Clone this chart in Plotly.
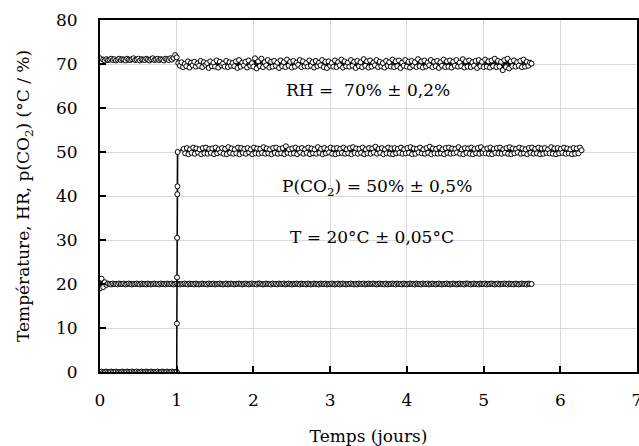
import plotly.graph_objects as go

# ---- data, half-hourly samples ----
step_days = 1 / 48

rh_values = [
    71.3, 70.4, 71.0, 70.8, 71.1, 70.9, 71.0, 71.2, 70.9, 71.1,
    70.8, 71.0, 71.2, 70.9, 71.1, 71.0, 70.8, 71.2, 71.0, 70.9,
    71.1, 71.3, 70.9, 71.0, 71.2, 70.8, 71.1, 71.0, 70.9, 71.2,
    71.0, 70.8, 71.1, 71.3, 70.9, 71.0, 71.2, 70.9, 71.1, 71.0,
    70.8, 71.2, 71.1, 70.9, 71.3, 71.0, 71.4, 72.0, 71.5,
    70.2, 69.6, 70.4, 69.3, 70.0, 69.5, 70.6, 69.2, 70.3, 69.7,
    70.5, 69.4, 70.1, 69.6, 70.7, 69.3, 70.4, 69.8, 70.2, 69.1,
    70.6, 69.5, 70.3, 69.4, 70.8, 69.2, 70.5, 69.7, 70.1, 69.4,
    70.7, 69.3, 70.4, 69.6, 70.2, 69.5, 70.6, 69.1, 70.9, 69.4,
    70.3, 69.7, 70.5, 69.2, 70.8, 69.6, 70.2, 69.4, 71.3, 69.0,
    70.6, 69.5, 71.2, 69.3, 70.4, 69.7, 70.9, 69.2, 70.5, 69.4,
    70.7, 69.6, 70.3, 69.1, 70.8, 69.5, 70.4, 69.3, 71.0, 69.6,
    70.5, 69.2, 70.7, 69.4, 70.3, 69.8, 70.9, 69.3, 70.6, 69.5,
    70.2, 69.4, 70.8, 69.6, 70.4, 69.2, 70.7, 69.5, 70.3, 69.7,
    70.9, 69.3, 70.5, 69.1, 70.6, 69.6, 70.2, 69.4, 70.8, 69.3,
    70.4, 69.7, 71.0, 69.2, 70.6, 69.5, 70.3, 69.4, 70.9, 69.6,
    70.5, 69.1, 70.7, 69.5, 70.4, 69.3, 71.1, 69.6, 70.6, 69.2,
    70.8, 69.4, 70.3, 69.7, 70.9, 69.3, 70.5, 69.5, 70.2, 69.2,
    70.7, 69.6, 70.4, 69.4, 71.0, 69.3, 70.6, 69.5, 70.8, 69.1,
    70.3, 69.6, 70.9, 69.4, 70.5, 69.2, 70.7, 69.6, 70.4, 69.3,
    71.1, 69.5, 70.6, 69.2, 70.8, 69.4, 70.3, 69.7, 70.9, 69.3,
    70.5, 69.5, 70.7, 69.1, 70.4, 69.6, 71.0, 69.3, 70.6, 69.4,
    70.8, 69.2, 70.5, 69.6, 70.9, 69.4, 70.3, 69.5, 71.1, 69.2,
    70.6, 69.4, 70.8, 69.3, 70.4, 69.6, 70.7, 69.1, 70.9, 69.5,
    70.5, 69.3, 71.0, 69.4, 70.6, 69.2, 70.8, 69.5, 71.2, 69.3,
    70.7, 69.4, 70.5, 68.6, 70.9, 69.3, 71.2, 69.0, 70.6, 69.5,
    70.8, 69.4, 70.4, 69.6, 70.7, 69.3, 71.0, 69.4, 70.5, 69.6,
    70.3, 70.1,
]

t_values = [
    19.0, 21.2, 19.3, 20.4, 19.8, 20.1, 20.0, 19.9, 20.1, 20.0,
    20.0, 19.9, 20.1, 20.0, 20.0, 20.1, 19.9, 20.0, 20.1, 20.0,
    19.9, 20.0, 20.0, 20.1, 20.0, 19.9, 20.1, 20.0, 20.0, 19.9,
    20.1, 20.0, 19.9, 20.0, 20.1, 20.0, 20.0, 19.9, 20.1, 20.0,
    20.0, 19.9, 20.1, 20.0, 20.0, 20.1, 19.9, 20.0, 20.1, 20.0,
    19.9, 20.0, 20.0, 20.1, 20.0, 19.9, 20.1, 20.0, 20.0, 19.9,
    20.1, 20.0, 19.9, 20.0, 20.1, 20.0, 20.0, 19.9, 20.1, 20.0,
    20.0, 20.1, 19.9, 20.0, 20.0, 20.1, 20.0, 19.9, 20.0, 20.1,
    19.9, 20.0, 20.1, 20.0, 19.9, 20.0, 20.0, 20.1, 20.0, 19.9,
    20.0, 20.1, 20.0, 19.9, 20.0, 20.1, 20.0, 20.0, 19.9, 20.1,
    20.1, 20.0, 19.9, 20.0, 20.1, 20.0, 20.0, 19.9, 20.1, 20.0,
    20.0, 19.9, 20.1, 20.0, 20.0, 20.1, 19.9, 20.0, 20.1, 20.0,
    19.9, 20.0, 20.0, 20.1, 20.0, 19.9, 20.1, 20.0, 20.0, 19.9,
    20.1, 20.0, 19.9, 20.0, 20.1, 20.0, 20.0, 19.9, 20.1, 20.0,
    20.0, 20.1, 19.9, 20.0, 20.0, 20.1, 20.0, 19.9, 20.0, 20.1,
    19.9, 20.0, 20.1, 20.0, 19.9, 20.0, 20.0, 20.1, 20.0, 19.9,
    20.0, 19.9, 20.1, 20.0, 20.0, 20.1, 19.9, 20.0, 20.1, 20.0,
    20.0, 20.1, 20.0, 19.9, 20.0, 20.1, 20.0, 20.0, 19.9, 20.1,
    19.9, 20.0, 20.0, 20.1, 20.0, 19.9, 20.1, 20.0, 20.0, 19.9,
    20.1, 20.0, 19.9, 20.0, 20.1, 20.0, 20.0, 19.9, 20.1, 20.0,
    20.0, 19.9, 20.1, 20.0, 20.0, 20.1, 19.9, 20.0, 20.1, 20.0,
    19.9, 20.0, 20.1, 20.0, 19.9, 20.0, 20.0, 20.1, 20.0, 19.9,
    20.0, 20.1, 20.0, 19.9, 20.0, 20.1, 20.0, 20.0, 19.9, 20.1,
    20.1, 20.0, 19.9, 20.0, 20.1, 20.0, 20.0, 19.9, 20.1, 20.0,
    20.0, 20.1, 19.9, 20.0, 20.0, 20.1, 20.0, 19.9, 20.0, 20.1,
    19.9, 20.0, 20.0, 20.1, 20.0, 19.9, 20.1, 20.0, 20.0, 19.9,
    20.1, 20.0, 19.9, 20.0, 20.1, 20.0, 20.0, 19.9, 20.1, 20.0,
    20.0,
]

co2_base_values = [
    0.0, 0.1, 0.0, 0.0, 0.1, 0.0, 0.0, 0.1, 0.0, 0.0,
    0.1, 0.0, 0.0, 0.0, 0.1, 0.0, 0.0, 0.1, 0.0, 0.0,
    0.1, 0.0, 0.0, 0.1, 0.0, 0.0, 0.1, 0.0, 0.0, 0.1,
    0.0, 0.0, 0.1, 0.0, 0.0, 0.0, 0.1, 0.0, 0.0, 0.1,
    0.0, 0.0, 0.1, 0.0, 0.0, 0.1, 0.0, 0.0, 0.0,
]
co2_ramp_days = [1.0, 1.002, 1.004, 1.006, 1.008, 1.010, 1.012]
co2_ramp_values = [0.0, 11.0, 21.5, 30.5, 40.4, 42.2, 50.0]
co2_plateau_start = 1.09
co2_plateau_values = [
    50.7, 49.7, 50.9, 49.5, 50.6, 49.8, 51.0, 49.6, 50.8, 49.9,
    50.6, 49.5, 50.9, 49.7, 51.0, 49.6, 50.7, 49.8, 50.8, 49.5,
    51.0, 49.7, 50.6, 49.9, 50.9, 49.6, 50.7, 49.5, 51.1, 49.8,
    50.8, 49.6, 50.6, 49.7, 51.0, 49.5, 50.9, 49.8, 50.7, 49.6,
    50.9, 49.9, 50.6, 49.5, 51.0, 49.7, 50.8, 49.6, 50.7, 49.8,
    51.1, 49.6, 50.8, 49.7, 50.6, 49.5, 50.9, 49.8, 51.0, 49.6,
    50.7, 49.7, 50.9, 49.5, 51.3, 49.8, 50.6, 49.6, 50.8, 49.7,
    51.0, 49.5, 50.7, 49.9, 50.9, 49.6, 50.6, 49.8, 51.0, 49.5,
    50.8, 49.7, 50.6, 49.6, 51.1, 49.8, 50.7, 49.5, 50.9, 49.7,
    50.6, 49.9, 51.0, 49.6, 50.8, 49.5, 50.9, 49.7, 50.7, 49.8,
    51.0, 49.6, 50.6, 49.7, 50.9, 49.5, 51.1, 49.8, 50.8, 49.6,
    50.7, 49.8, 51.0, 49.5, 50.6, 49.7, 50.9, 49.6, 50.8, 49.9,
    51.2, 49.6, 50.7, 49.8, 50.9, 49.5, 50.6, 49.7, 51.0, 49.6,
    50.8, 49.5, 50.9, 49.7, 50.7, 49.8, 51.0, 49.6, 50.6, 49.7,
    50.9, 49.8, 51.1, 49.5, 50.8, 49.6, 50.7, 49.9, 51.0, 49.7,
    50.6, 49.6, 50.9, 49.8, 51.2, 49.5, 50.8, 49.7, 50.7, 49.6,
    51.0, 49.7, 50.6, 49.5, 50.9, 49.8, 51.0, 49.6, 50.8, 49.7,
    50.7, 49.9, 51.1, 49.6, 50.6, 49.5, 50.9, 49.8, 50.8, 49.6,
    51.0, 49.5, 50.7, 49.7, 50.9, 49.6, 51.1, 49.8, 50.6, 49.7,
    50.8, 49.6, 51.0, 49.5, 50.7, 49.8, 50.9, 49.7, 51.0, 49.6,
    50.6, 49.8, 50.9, 49.6, 51.1, 49.5, 50.8, 49.7, 50.7, 49.9,
    51.0, 49.6, 50.8, 49.7, 50.6, 49.5, 50.9, 49.8, 51.0, 49.6,
    50.7, 49.7, 51.0, 49.5, 50.8, 49.6, 50.9, 49.8, 50.6, 49.7,
    51.1, 49.6, 50.8, 49.5, 50.9, 49.7, 50.7, 49.8, 51.0, 49.6,
    50.8, 49.7, 50.6, 49.5, 50.9, 49.6, 50.8, 49.7, 51.0, 50.4,
]

x_ticks = [0, 1, 2, 3, 4, 5, 6, 7]
y_ticks = [0, 10, 20, 30, 40, 50, 60, 70, 80]

labels = {
    "rh": "RH =  70% ± 0,2%",
    "co2": "P(CO<sub>2</sub>) = 50% ± 0,5%",
    "t": "T = 20°C ± 0,05°C",
}

# ---- build time axes ----
rh_days = [i * step_days for i in range(len(rh_values))]
t_days = [i * step_days for i in range(len(t_values))]
co2_base_days = [i * step_days for i in range(len(co2_base_values))]
co2_plateau_days = [co2_plateau_start + i * step_days for i in range(len(co2_plateau_values))]
co2_days = co2_base_days + co2_ramp_days + co2_plateau_days
co2_values = co2_base_values + co2_ramp_values + co2_plateau_values

FONT = "DejaVu Serif"
marker = dict(symbol="circle", size=5, color="white", line=dict(color="black", width=1))
line = dict(color="black", width=1.5)

fig = go.Figure()
for xs, ys, name in [
    (t_days, t_values, "T"),
    (co2_days, co2_values, "P(CO2)"),
    (rh_days, rh_values, "RH"),
]:
    fig.add_trace(go.Scatter(x=xs, y=ys, mode="lines+markers", name=name,
                             line=line, marker=marker, showlegend=False))

ann = [
    (3.49, 64.0, labels["rh"]),
    (3.61, 42.0, labels["co2"]),
    (3.55, 30.6, labels["t"]),
]
for ax, ay, txt in ann:
    fig.add_annotation(x=ax, y=ay, text=txt, showarrow=False,
                       font=dict(family=FONT, size=17, color="black"))

axis_common = dict(
    showgrid=True, gridcolor="#d9d9d9", gridwidth=1,
    showline=True, linecolor="black", linewidth=2, mirror=True,
    ticks="inside", ticklen=6, tickwidth=2, tickcolor="black",
    tickfont=dict(family=FONT, size=17, color="black"),
    zeroline=False, automargin=False, ticklabeloverflow="allow",
)

fig.update_xaxes(range=[0, 7], tickvals=x_ticks, ticklabelstandoff=12,
                 title=dict(text="Temps (jours)", font=dict(family=FONT, size=17, color="black"), standoff=22),
                 **axis_common)
fig.update_yaxes(range=[0, 80], tickvals=y_ticks, ticklabelstandoff=17,
                 title=dict(text="Température, HR, p(CO<sub>2</sub>) (°C / %)",
                            font=dict(family=FONT, size=17, color="black"), standoff=22),
                 **axis_common)

fig.update_layout(
    width=639, height=446,
    margin=dict(l=100, r=2, t=20, b=74),
    plot_bgcolor="white", paper_bgcolor="white",
)

fig.write_html("out.html", config={"displayModeBar": False},
               post_script="document.body.style.margin='0';document.body.style.overflow='hidden';")
